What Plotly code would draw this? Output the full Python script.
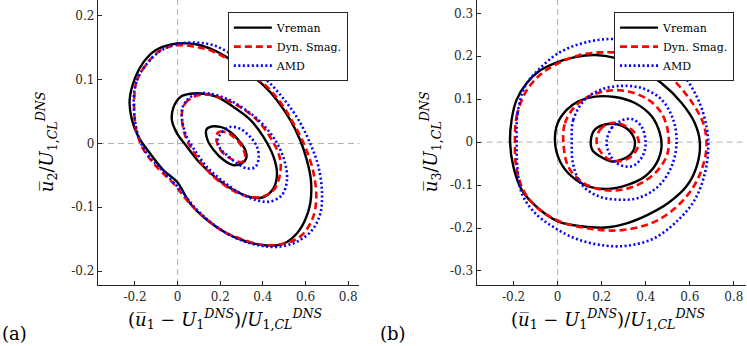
import plotly.graph_objects as go

# ---- panel (a): u2 vs u1, three contour levels per model ----
a_vre_out_x = [-0.225, -0.198, -0.159, -0.105, -0.034, 0.044, 0.106, 0.184, 0.263, 0.325, 0.403, 0.466, 0.528, 0.575, 0.606, 0.625, 0.622, 0.598, 0.559, 0.497, 0.419, 0.325, 0.231, 0.138, 0.059, -0.003, -0.066, -0.128, -0.183, -0.214]
a_vre_out_y = [0.068, 0.104, 0.128, 0.146, 0.155, 0.157, 0.154, 0.144, 0.128, 0.112, 0.091, 0.068, 0.037, 0.005, -0.026, -0.057, -0.094, -0.120, -0.141, -0.157, -0.160, -0.154, -0.141, -0.120, -0.094, -0.060, -0.042, -0.016, 0.010, 0.037]
a_dyn_out_x = [-0.203, -0.191, -0.144, -0.081, -0.003, 0.075, 0.153, 0.231, 0.309, 0.403, 0.481, 0.544, 0.598, 0.638, 0.650, 0.630, 0.575, 0.497, 0.403, 0.309, 0.216, 0.122, 0.044, -0.019, -0.097, -0.159, -0.194]
a_dyn_out_y = [0.073, 0.099, 0.125, 0.146, 0.154, 0.152, 0.146, 0.133, 0.115, 0.094, 0.065, 0.031, -0.005, -0.047, -0.089, -0.120, -0.146, -0.157, -0.159, -0.151, -0.138, -0.115, -0.089, -0.063, -0.037, -0.010, 0.021]
a_amd_out_x = [-0.206, -0.191, -0.144, -0.081, -0.003, 0.091, 0.169, 0.247, 0.325, 0.419, 0.497, 0.567, 0.622, 0.661, 0.677, 0.669, 0.630, 0.559, 0.466, 0.372, 0.278, 0.184, 0.091, 0.013, -0.066, -0.144, -0.188]
a_amd_out_y = [0.068, 0.099, 0.125, 0.145, 0.156, 0.158, 0.154, 0.141, 0.123, 0.099, 0.070, 0.037, 0.000, -0.037, -0.078, -0.110, -0.136, -0.154, -0.162, -0.159, -0.149, -0.131, -0.104, -0.073, -0.044, -0.016, 0.016]

a_vre_mid_x = [-0.027, -0.019, 0.013, 0.059, 0.122, 0.184, 0.263, 0.341, 0.403, 0.450, 0.466, 0.450, 0.403, 0.341, 0.263, 0.184, 0.106, 0.044, -0.003]
a_vre_mid_y = [0.037, 0.057, 0.073, 0.078, 0.078, 0.073, 0.057, 0.037, 0.010, -0.021, -0.047, -0.070, -0.084, -0.084, -0.073, -0.055, -0.031, -0.005, 0.016]
a_dyn_mid_x = [0.020, 0.036, 0.075, 0.138, 0.216, 0.294, 0.372, 0.434, 0.478, 0.481, 0.450, 0.388, 0.309, 0.231, 0.153, 0.091, 0.044, 0.025]
a_dyn_mid_y = [0.047, 0.063, 0.073, 0.077, 0.070, 0.057, 0.037, 0.010, -0.021, -0.047, -0.073, -0.084, -0.081, -0.068, -0.047, -0.021, 0.005, 0.026]
a_amd_mid_x = [0.020, 0.044, 0.091, 0.153, 0.231, 0.309, 0.388, 0.458, 0.500, 0.513, 0.489, 0.434, 0.372, 0.294, 0.216, 0.138, 0.075, 0.036]
a_amd_mid_y = [0.052, 0.068, 0.078, 0.078, 0.070, 0.055, 0.034, 0.005, -0.026, -0.057, -0.081, -0.091, -0.089, -0.078, -0.060, -0.037, -0.008, 0.016]

a_vre_in_x = [0.134, 0.145, 0.200, 0.247, 0.286, 0.317, 0.322, 0.302, 0.263, 0.216, 0.169, 0.141]
a_vre_in_y = [0.021, 0.025, 0.026, 0.018, 0.005, -0.010, -0.023, -0.031, -0.034, -0.026, -0.010, 0.005]
a_dyn_in_x = [0.181, 0.192, 0.231, 0.270, 0.302, 0.317, 0.302, 0.263, 0.223, 0.192]
a_dyn_in_y = [0.010, 0.018, 0.017, 0.008, -0.005, -0.021, -0.029, -0.026, -0.018, -0.005]
a_amd_in_x = [0.188, 0.208, 0.247, 0.294, 0.341, 0.372, 0.380, 0.364, 0.325, 0.278, 0.231, 0.200]
a_amd_in_y = [0.005, 0.018, 0.026, 0.023, 0.010, -0.005, -0.023, -0.037, -0.039, -0.031, -0.018, -0.008]

# ---- panel (b): u3 vs u1 ----
b_vre_out_x = [-0.216, -0.209, -0.186, -0.141, -0.088, -0.012, 0.079, 0.169, 0.260, 0.366, 0.472, 0.563, 0.623, 0.646, 0.631, 0.585, 0.502, 0.411, 0.321, 0.215, 0.109, 0.003, -0.088, -0.163, -0.201]
b_vre_out_y = [0.000, 0.052, 0.099, 0.137, 0.164, 0.184, 0.198, 0.203, 0.196, 0.172, 0.137, 0.091, 0.044, -0.002, -0.057, -0.103, -0.142, -0.169, -0.188, -0.199, -0.196, -0.185, -0.154, -0.111, -0.057]
b_dyn_out_x = [-0.194, -0.186, -0.148, -0.088, -0.012, 0.094, 0.200, 0.306, 0.411, 0.517, 0.601, 0.661, 0.676, 0.654, 0.608, 0.533, 0.442, 0.351, 0.260, 0.154, 0.033, -0.073, -0.148, -0.186]
b_dyn_out_y = [0.000, 0.060, 0.114, 0.153, 0.180, 0.202, 0.209, 0.206, 0.188, 0.149, 0.099, 0.044, -0.010, -0.064, -0.111, -0.154, -0.185, -0.200, -0.206, -0.202, -0.189, -0.161, -0.119, -0.064]
b_amd_out_x = [-0.186, -0.182, -0.148, -0.088, 0.003, 0.109, 0.230, 0.351, 0.472, 0.563, 0.638, 0.676, 0.684, 0.669, 0.623, 0.548, 0.442, 0.321, 0.215, 0.094, -0.012, -0.103, -0.163, -0.183]
b_amd_out_y = [0.000, 0.067, 0.130, 0.168, 0.207, 0.230, 0.240, 0.234, 0.203, 0.161, 0.099, 0.036, -0.010, -0.072, -0.134, -0.181, -0.223, -0.241, -0.241, -0.227, -0.200, -0.165, -0.119, -0.057]

b_vre_mid_x = [-0.012, 0.000, 0.041, 0.094, 0.169, 0.260, 0.351, 0.427, 0.464, 0.472, 0.449, 0.396, 0.321, 0.230, 0.139, 0.064, 0.011]
b_vre_mid_y = [0.000, 0.044, 0.075, 0.095, 0.106, 0.105, 0.091, 0.060, 0.021, -0.010, -0.049, -0.080, -0.099, -0.109, -0.103, -0.080, -0.045]
b_dyn_mid_x = [0.026, 0.033, 0.079, 0.139, 0.230, 0.321, 0.411, 0.472, 0.502, 0.499, 0.457, 0.381, 0.290, 0.200, 0.109, 0.048]
b_dyn_mid_y = [0.000, 0.044, 0.083, 0.106, 0.120, 0.118, 0.099, 0.067, 0.021, -0.026, -0.064, -0.095, -0.111, -0.111, -0.092, -0.057]
b_amd_mid_x = [0.064, 0.071, 0.124, 0.200, 0.290, 0.381, 0.472, 0.525, 0.540, 0.517, 0.457, 0.366, 0.275, 0.185, 0.109, 0.071]
b_amd_mid_y = [0.000, 0.052, 0.099, 0.123, 0.131, 0.126, 0.099, 0.052, -0.002, -0.057, -0.103, -0.130, -0.134, -0.126, -0.099, -0.053]

b_vre_in_x = [0.151, 0.169, 0.215, 0.275, 0.328, 0.351, 0.336, 0.290, 0.245, 0.192, 0.157]
b_vre_in_y = [0.005, 0.029, 0.041, 0.041, 0.025, 0.000, -0.026, -0.041, -0.045, -0.033, -0.018]
b_dyn_in_x = [0.177, 0.192, 0.237, 0.298, 0.351, 0.369, 0.343, 0.290, 0.237, 0.200]
b_dyn_in_y = [0.000, 0.029, 0.044, 0.040, 0.021, -0.002, -0.029, -0.044, -0.041, -0.026]
b_amd_in_x = [0.222, 0.245, 0.290, 0.336, 0.381, 0.399, 0.389, 0.351, 0.313, 0.268, 0.237]
b_amd_in_y = [0.000, 0.033, 0.050, 0.054, 0.036, 0.000, -0.029, -0.053, -0.057, -0.049, -0.029]

models = ['Vreman', 'Dyn. Smag.', 'AMD']
styles = {
    'Vreman': dict(color='black', width=2.4, dash='solid'),
    'Dyn. Smag.': dict(color='#ff0000', width=2.6, dash='7px,4px'),
    'AMD': dict(color='#0000ff', width=2.6, dash='2px,2.5px'),
}

panel_a = {
    'Vreman': [(a_vre_out_x, a_vre_out_y), (a_vre_mid_x, a_vre_mid_y), (a_vre_in_x, a_vre_in_y)],
    'Dyn. Smag.': [(a_dyn_out_x, a_dyn_out_y), (a_dyn_mid_x, a_dyn_mid_y), (a_dyn_in_x, a_dyn_in_y)],
    'AMD': [(a_amd_out_x, a_amd_out_y), (a_amd_mid_x, a_amd_mid_y), (a_amd_in_x, a_amd_in_y)],
}
panel_b = {
    'Vreman': [(b_vre_out_x, b_vre_out_y), (b_vre_mid_x, b_vre_mid_y), (b_vre_in_x, b_vre_in_y)],
    'Dyn. Smag.': [(b_dyn_out_x, b_dyn_out_y), (b_dyn_mid_x, b_dyn_mid_y), (b_dyn_in_x, b_dyn_in_y)],
    'AMD': [(b_amd_out_x, b_amd_out_y), (b_amd_mid_x, b_amd_mid_y), (b_amd_in_x, b_amd_in_y)],
}

SERIF = 'DejaVu Serif'
fig = go.Figure()


def add_panel(panel, xa, ya, leg):
    for m in models:
        for k, (xs, ys) in enumerate(panel[m]):
            fig.add_trace(go.Scatter(
                x=list(xs) + [xs[0]], y=list(ys) + [ys[0]],
                mode='lines', line=dict(shape='spline', smoothing=1.0, **styles[m]),
                name=m, legendgroup=leg + m, showlegend=(k == 0),
                legend=leg, xaxis=xa, yaxis=ya, hoverinfo='skip'))


add_panel(panel_a, 'x', 'y', 'legend')
add_panel(panel_b, 'x2', 'y2', 'legend2')

axis_common = dict(showgrid=False, zeroline=False, showline=True, linecolor='#262626',
                   linewidth=1, ticks='inside', ticklen=4, tickcolor='#262626',
                   tickfont=dict(family=SERIF, size=12, color='#262626'))

xt = [-0.2, 0, 0.2, 0.4, 0.6, 0.8]
xt_txt = ['-0.2', '0', '0.2', '0.4', '0.6', '0.8']
ya_t = [-0.2, -0.1, 0, 0.1, 0.2]
ya_txt = ['-0.2', '-0.1', '0', '0.1', '0.2']
yb_t = [-0.3, -0.2, -0.1, 0, 0.1, 0.2, 0.3]
yb_txt = ['-0.3', '-0.2', '-0.1', '0', '0.1', '0.2', '0.3']

leg_common = dict(xanchor='left', yanchor='top', bgcolor='white',
                  bordercolor='#262626', borderwidth=1, itemwidth=38,
                  font=dict(family=SERIF, size=11, color='black'),
                  tracegroupgap=0, traceorder='normal')

fig.update_layout(
    width=747, height=346, margin=dict(l=0, r=0, t=0, b=0),
    plot_bgcolor='white', paper_bgcolor='white', showlegend=True,
    xaxis=dict(domain=[0.131, 0.481], range=[-0.374, 0.852], tickvals=xt, ticktext=xt_txt,
               anchor='y', **axis_common),
    yaxis=dict(domain=[0.176, 1.0], range=[-0.222, 0.225], tickvals=ya_t, ticktext=ya_txt,
               anchor='x', **axis_common),
    xaxis2=dict(domain=[0.638, 0.998], range=[-0.368, 0.853], tickvals=xt, ticktext=xt_txt,
                anchor='y2', **axis_common),
    yaxis2=dict(domain=[0.176, 1.0], range=[-0.333, 0.331], tickvals=yb_t, ticktext=yb_txt,
                anchor='x2', **axis_common),
    legend=dict(x=0.305, y=0.965, **leg_common),
    legend2=dict(x=0.822, y=0.965, **leg_common),
)

# dashed zero lines
for xr, yr in [('x', 'y'), ('x2', 'y2')]:
    fig.add_shape(type='line', xref=xr, yref=yr + ' domain', x0=0, x1=0, y0=0, y1=1,
                  line=dict(color='#b0b0b0', width=1, dash='6px,4px'), layer='below')
    fig.add_shape(type='line', xref=xr + ' domain', yref=yr, x0=0, x1=1, y0=0, y1=0,
                  line=dict(color='#b0b0b0', width=1, dash='6px,4px'), layer='below')

xlabel = ('(<i>u\u0305</i><sub>1</sub> \u2212 <i>U</i><sub>1</sub><sup><i>DNS</i></sup>)'
          '/<i>U</i><sub>1,<i>CL</i></sub><sup><i>DNS</i></sup>')
ylabel_a = '<i>u\u0305</i><sub>2</sub>/<i>U</i><sub>1,<i>CL</i></sub><sup><i>DNS</i></sup>'
ylabel_b = '<i>u\u0305</i><sub>3</sub>/<i>U</i><sub>1,<i>CL</i></sub><sup><i>DNS</i></sup>'

ann = [
    dict(text=xlabel, x=0.302, y=0.035, xanchor='center', yanchor='bottom'),
    dict(text=xlabel, x=0.815, y=0.035, xanchor='center', yanchor='bottom'),
    dict(text=ylabel_a, x=0.062, y=0.59, textangle=-90, xanchor='center', yanchor='middle'),
    dict(text=ylabel_b, x=0.576, y=0.59, textangle=-90, xanchor='center', yanchor='middle'),
    dict(text='(a)', x=0.0, y=0.0, xanchor='left', yanchor='bottom'),
    dict(text='(b)', x=0.506, y=0.0, xanchor='left', yanchor='bottom'),
]
for a in ann:
    fig.add_annotation(xref='paper', yref='paper', showarrow=False,
                       font=dict(family=SERIF, size=18, color='black'), **a)

fig.write_html("out.html", config={'displayModeBar': False},
               post_script="document.body.style.margin='0px';")
